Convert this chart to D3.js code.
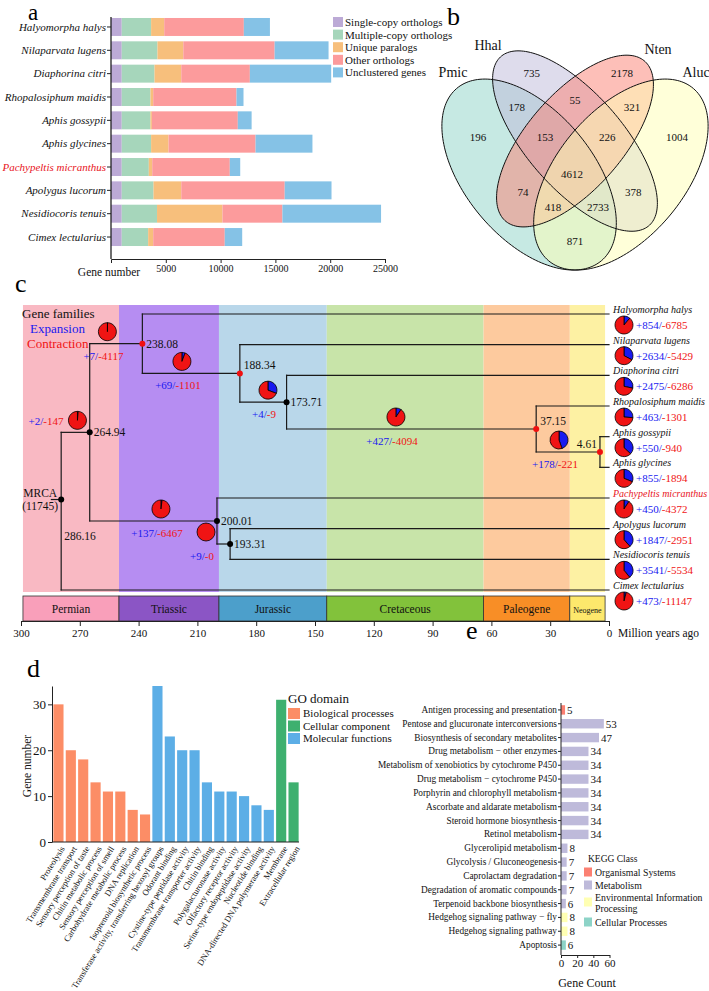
<!DOCTYPE html>
<html>
<head>
<meta charset="utf-8">
<script src="https://cdn.jsdelivr.net/npm/d3@7"></script>
<style>
body { margin: 0; background: #fff; }
svg { display: block; font-family: "Liberation Serif", "Times New Roman", serif; }
</style>
</head>
<body>
<svg id="fig" width="709" height="991"></svg>
<script>
// ---------------- data: a (ortholog composition) ----------------
const speciesA = ["Halyomorpha halys", "Nilaparvata lugens", "Diaphorina citri", "Rhopalosiphum maidis", "Aphis gossypii",
    "Aphis glycines", "Pachypeltis micranthus", "Apolygus lucorum", "Nesidiocoris tenuis", "Cimex lectularius"];
const orthoClasses = ["Single-copy orthologs", "Multiple-copy orthologs", "Unique paralogs", "Other orthologs", "Unclustered genes"];
const singleCopy     = [980, 980, 980, 980, 980, 980, 980, 980, 980, 980];
const multiCopy      = [2680, 3260, 2990, 2620, 2620, 2680, 2470, 2900, 3220, 2410];
const uniqueParalogs = [1195, 2355, 2440, 250, 130, 1590, 310, 2530, 5970, 460];
const otherOrthologs = [7265, 8335, 6260, 7600, 7840, 7940, 7080, 9440, 5470, 6530];
const unclustered    = [2380, 4920, 7420, 640, 1260, 5190, 950, 4270, 9000, 1590];
const geneTicks = [5000, 10000, 15000, 20000, 25000];

// ---------------- data: b (venn) ----------------
const vennSets = ["Pmic", "Hhal", "Nten", "Aluc"];
const vennCounts = [196, 735, 2178, 1004, 178, 55, 321, 153, 226, 4612, 74, 378, 418, 2733, 871];

// ---------------- data: c (tree) ----------------
const periodNames = ["Permian", "Triassic", "Jurassic", "Cretaceous", "Paleogene", "Neogene"];
const periodStart = [299, 250, 199, 144, 64, 20];
const periodEnd   = [250, 199, 144, 64, 20, 2];
const ageTicks = [300, 270, 240, 210, 180, 150, 120, 90, 60, 30, 0];
const tipNames = ["Halyomorpha halys", "Nilaparvata lugens", "Diaphorina citri", "Rhopalosiphum maidis", "Aphis gossypii",
    "Aphis glycines", "Pachypeltis micranthus", "Apolygus lucorum", "Nesidiocoris tenuis", "Cimex lectularius"];
const tipGain = [854, 2634, 2475, 463, 550, 855, 450, 1847, 3541, 473];
const tipLoss = [6785, 5429, 6286, 1301, 940, 1894, 4372, 2951, 5534, 11147];
const tipParent = [2, 3, 4, 5, 6, 6, 7, 8, 8, 0];
// internal nodes: 0 = MRCA
const nodeLabel  = ["286.16", "264.94", "238.08", "188.34", "173.71", "37.15", "4.61", "200.01", "193.31"];
const nodeAge    = [279.5, 264.94, 238.08, 188.34, 164.5, 37.15, 4.61, 200.01, 193.31];
const nodeParent = [-1, 0, 1, 2, 3, 4, 5, 1, 7];
const nodeCalibrated = [false, false, true, true, false, true, true, false, false];
const mrcaRow = 6.05;
const mrcaFamilies = 11745;
const branchNode  = [1, 2, 3, 4, 5, 6, 7, 8];
const branchGain  = [2, 7, 69, 4, 427, 178, 137, 9];
const branchLoss  = [147, 4117, 1101, 9, 4094, 221, 6467, 0];
const branchPieBlue = [2, 7, 69, 4, 427, 178, 137, 0];
const branchPieRed  = [147, 4117, 1101, 9, 4094, 221, 6467, 9];
const branchPieAge  = [271.2, 255.9, 217.9, 174, 108.7, 25.5, 228.6, 205.6];

// ---------------- data: d (GO) ----------------
const goTerms = ["Proteolysis", "Transmembrane transport", "Sensory perception of taste", "Chitin metabolic process",
    "Sensory perception of smell", "Carbohydrate metabolic process", "DNA replication", "Isoprenoid biosynthetic process",
    "Transferase activity, transferring hexosyl groups", "Odorant binding", "Cystine-type peptidase activity",
    "Transmembrane transporter activity", "Chitin binding", "Polygalacturonase activity", "Olfactory receptor activity",
    "Serine-type endopeptidase activity", "Nucleotide binding", "DNA-directed DNA polymerase activity",
    "Membrane", "Extracellular region"];
const goCounts = [30, 20, 18, 13, 11, 11, 7, 6, 34, 23, 20, 20, 13, 11, 11, 10, 8, 7, 31, 13];
const goDomainOf = ["BP", "BP", "BP", "BP", "BP", "BP", "BP", "BP", "MF", "MF", "MF", "MF", "MF", "MF", "MF", "MF", "MF", "MF", "CC", "CC"];
const goDomains = ["BP", "CC", "MF"];
const goDomainNames = ["Biological processes", "Cellular component", "Molecular functions"];
const goTicks = [0, 10, 20, 30];

// ---------------- data: e (KEGG) ----------------
const keggTerms = ["Antigen processing and presentation", "Pentose and glucuronate interconversions",
    "Biosynthesis of secondary metabolites", "Drug metabolism \u2212 other enzymes",
    "Metabolism of xenobiotics by cytochrome P450", "Drug metabolism \u2212 cytochrome P450",
    "Porphyrin and chlorophyll metabolism", "Ascorbate and aldarate metabolism", "Steroid hormone biosynthesis",
    "Retinol metabolism", "Glycerolipid metabolism", "Glycolysis / Gluconeogenesis", "Caprolactam degradation",
    "Degradation of aromatic compounds", "Terpenoid backbone biosynthesis", "Hedgehog signaling pathway \u2212 fly",
    "Hedgehog signaling pathway", "Apoptosis"];
const keggCounts = [5, 53, 47, 34, 34, 34, 34, 34, 34, 34, 8, 7, 7, 7, 6, 8, 8, 6];
const keggClassOf = ["OS", "M", "M", "M", "M", "M", "M", "M", "M", "M", "M", "M", "M", "M", "M", "E", "E", "C"];
const keggClasses = ["OS", "M", "E", "C"];
const keggClassNames = ["Organismal Systems", "Metabolism", "Environmental Information Processing", "Cellular Processes"];
const keggTicks = [0, 20, 40, 60];

// ---------------- styles ----------------
const orthoColors = ["#bcaad6", "#a6d6bb", "#f7bf7c", "#fc9b9c", "#85c2e6"];
const vennFills = ["#8dd3c7", "#bebada", "#fb8072", "#ffffb3"];
const bandColors = ["#f9b9c3", "#b68df2", "#b9d7ea", "#c8e4a9", "#fdca9e", "#fdf1a3"];
const boxColors = ["#f99fba", "#8b55c5", "#4c9fcb", "#82c23b", "#f88e26", "#fde86c"];
const goColors = ["#fc8d66", "#3eb06f", "#5caee6"];
const keggColors = ["#fb8072", "#bebada", "#ffffb3", "#8dd3c7"];
const BLUE = "#1818f0", RED = "#f01414";
const INK = "#111";

const svg = d3.select("#fig");
svg.append("rect").attr("width", 709).attr("height", 991).attr("fill", "#fff");

function cleanAxis(g) {
    g.attr("font-family", null).attr("font-size", null);
    g.selectAll("path, line").attr("stroke", "#222");
    g.selectAll("text").attr("fill", INK);
}

// panel letters
const letters = ["a", "b", "c", "d", "e"];
const letterXY = [[28, 20], [447, 25], [15, 292], [27, 677], [466, 639]];
const letterSize = [23, 26, 26, 26, 26];
svg.selectAll("text.letter").data(letters).join("text")
    .attr("class", "letter")
    .attr("x", (d, i) => letterXY[i][0]).attr("y", (d, i) => letterXY[i][1])
    .attr("font-size", (d, i) => letterSize[i]).attr("fill", "#000").text(d => d);

// ================= a =================
const rowsA = speciesA.map((s, i) => ({
    species: s,
    [orthoClasses[0]]: singleCopy[i], [orthoClasses[1]]: multiCopy[i], [orthoClasses[2]]: uniqueParalogs[i],
    [orthoClasses[3]]: otherOrthologs[i], [orthoClasses[4]]: unclustered[i]
}));
const xA = d3.scaleLinear().domain([0, 25000]).range([111, 385]);
const yA = d3.scaleBand().domain(speciesA).range([15.3, 248.7]).paddingInner(0.23).paddingOuter(0.115);
const colorA = d3.scaleOrdinal(orthoClasses, orthoColors);
const axisYA = 259;

const gA = svg.append("g");
gA.append("g").selectAll("g").data(d3.stack().keys(orthoClasses)(rowsA)).join("g")
    .attr("fill", d => colorA(d.key))
    .selectAll("rect").data(d => d).join("rect")
    .attr("x", d => xA(d[0])).attr("width", d => xA(d[1]) - xA(d[0]))
    .attr("y", d => yA(d.data.species)).attr("height", yA.bandwidth());

gA.append("g").attr("transform", `translate(${xA(0)},0)`)
    .call(d3.axisLeft(yA).tickSize(4).tickSizeOuter(0).tickPadding(1))
    .call(g => g.select(".domain").remove())
    .call(cleanAxis)
    .selectAll("text").attr("font-size", 11).attr("font-style", "italic")
    .attr("fill", d => d === "Pachypeltis micranthus" ? "#e8141c" : INK);
gA.append("line").attr("x1", xA(0)).attr("x2", xA(0)).attr("y1", 17).attr("y2", axisYA)
    .attr("stroke", "#222").attr("stroke-width", 1.3);
gA.append("g").attr("transform", `translate(0,${axisYA})`)
    .call(d3.axisBottom(xA).tickValues(geneTicks).tickSize(4).tickSizeOuter(4).tickPadding(2).tickFormat(d3.format("d")))
    .call(cleanAxis)
    .selectAll("text").attr("font-size", 10);
gA.append("text").attr("x", 109).attr("y", 276).attr("text-anchor", "middle")
    .attr("font-size", 11.5).attr("fill", INK).text("Gene number");

const legA = gA.append("g").attr("transform", "translate(333,17)");
orthoClasses.forEach((c, i) => {
    legA.append("rect").attr("x", 0).attr("y", i * 12.6).attr("width", 10).attr("height", 10).attr("fill", orthoColors[i]);
    legA.append("text").attr("x", 12).attr("y", i * 12.6 + 9).attr("font-size", 11).attr("fill", INK).text(c);
});

// ================= b =================
const vx = d3.scaleLinear().domain([0, 1]).range([422, 728]);
const vy = d3.scaleLinear().domain([0, 1]).range([332, -3]);
const vennEllipses = [
    {cx: 0.35, cy: 0.47, a: 0.35, b: 0.20, rot: 135},
    {cx: 0.50, cy: 0.57, a: 0.35, b: 0.15, rot: 135},
    {cx: 0.50, cy: 0.57, a: 0.33, b: 0.15, rot: 45},
    {cx: 0.65, cy: 0.47, a: 0.35, b: 0.20, rot: 45}
];
const vennLabelUV = [[0.183, 0.582], [0.359, 0.773], [0.654, 0.773], [0.833, 0.582], [0.310, 0.672], [0.5, 0.693],
    [0.686, 0.672], [0.402, 0.582], [0.605, 0.582], [0.49, 0.472], [0.330, 0.418], [0.690, 0.418],
    [0.428, 0.373], [0.575, 0.373], [0.5, 0.272]];
const vennSetXY = [[453, 72], [488, 45], [658, 49], [696, 72]];

const gB = svg.append("g");
const ellLine = d3.line().curve(d3.curveLinearClosed);
function ellipsePts(e) {
    const r = e.rot * Math.PI / 180;
    return d3.range(0, 2 * Math.PI, Math.PI / 90).map(t => {
        const px = e.a * Math.cos(t), py = e.b * Math.sin(t);
        return [vx(e.cx + px * Math.cos(r) - py * Math.sin(r)), vy(e.cy + px * Math.sin(r) + py * Math.cos(r))];
    });
}
gB.selectAll("path.fill").data(vennEllipses).join("path")
    .attr("d", e => ellLine(ellipsePts(e))).attr("fill", (e, i) => vennFills[i]).attr("fill-opacity", 0.5);
gB.selectAll("path.edge").data(vennEllipses).join("path")
    .attr("d", e => ellLine(ellipsePts(e))).attr("fill", "none").attr("stroke", "#111").attr("stroke-width", 1);
gB.selectAll("text.cnt").data(vennCounts).join("text")
    .attr("x", (d, i) => vx(vennLabelUV[i][0])).attr("y", (d, i) => vy(vennLabelUV[i][1]) + 4)
    .attr("text-anchor", "middle").attr("font-size", 11).attr("fill", INK).text(d => d);
gB.selectAll("text.set").data(vennSets).join("text")
    .attr("x", (d, i) => vennSetXY[i][0]).attr("y", (d, i) => vennSetXY[i][1] + 5)
    .attr("text-anchor", "middle").attr("font-size", 14).attr("fill", INK).text(d => d);

// ================= c =================
const xC = d3.scaleLinear().domain([300, 0]).range([21, 609]);
const yC = d3.scaleLinear().domain([0, 9]).range([314, 590]);
const gC = svg.append("g");
const bandTop = 305, bandBottom = 592, boxTop = 596, axisYC = 621;

gC.selectAll("rect.band").data(periodNames).join("rect")
    .attr("x", (d, i) => xC(periodStart[i])).attr("width", (d, i) => xC(periodEnd[i]) - xC(periodStart[i]))
    .attr("y", bandTop).attr("height", bandBottom - bandTop).attr("fill", (d, i) => bandColors[i]);
gC.selectAll("rect.box").data(periodNames).join("rect")
    .attr("x", (d, i) => xC(periodStart[i])).attr("width", (d, i) => xC(periodEnd[i]) - xC(periodStart[i]))
    .attr("y", boxTop).attr("height", axisYC - boxTop).attr("fill", (d, i) => boxColors[i])
    .attr("stroke", "#333").attr("stroke-width", 0.8);
gC.selectAll("text.period").data(periodNames).join("text")
    .attr("x", (d, i) => (xC(periodStart[i]) + xC(periodEnd[i])) / 2).attr("y", (boxTop + axisYC) / 2 + 4)
    .attr("text-anchor", "middle").attr("font-size", d => d === "Neogene" ? 8 : 11.5).attr("fill", INK).text(d => d);

gC.append("g").attr("transform", `translate(0,${axisYC})`)
    .call(d3.axisBottom(xC).tickValues(ageTicks).tickSize(5).tickSizeOuter(0).tickPadding(3))
    .call(cleanAxis)
    .selectAll("text").attr("font-size", 11);
gC.append("text").attr("x", 618).attr("y", 637).attr("font-size", 11.5).attr("fill", INK).text("Million years ago");

// tree layout
const nodeY = [], nodeSpan = [];
function layoutNode(n) {
    const ys = [];
    tipParent.forEach((p, i) => { if (p === n) ys.push(yC(i)); });
    nodeParent.forEach((p, j) => { if (p === n) ys.push(layoutNode(j)); });
    nodeSpan[n] = d3.extent(ys);
    nodeY[n] = n === 0 ? yC(mrcaRow) : (nodeSpan[n][0] + nodeSpan[n][1]) / 2;
    return nodeY[n];
}
layoutNode(0);

const treeLines = [];
nodeLabel.forEach((l, n) => {
    treeLines.push([xC(nodeAge[n]), nodeSpan[n][0], xC(nodeAge[n]), nodeSpan[n][1]]);
    if (nodeParent[n] >= 0) treeLines.push([xC(nodeAge[nodeParent[n]]), nodeY[n], xC(nodeAge[n]), nodeY[n]]);
});
tipNames.forEach((t, i) => treeLines.push([xC(nodeAge[tipParent[i]]), yC(i), xC(0), yC(i)]));
treeLines.push([xC(nodeAge[0] + 5), nodeY[0], xC(nodeAge[0]), nodeY[0]]);
gC.selectAll("line.branch").data(treeLines).join("line")
    .attr("x1", d => d[0]).attr("y1", d => d[1]).attr("x2", d => d[2]).attr("y2", d => d[3])
    .attr("stroke", "#1a1a1a").attr("stroke-width", 1.2).attr("stroke-linecap", "square");

gC.selectAll("circle.node").data(nodeLabel).join("circle")
    .attr("cx", (d, n) => xC(nodeAge[n])).attr("cy", (d, n) => nodeY[n]).attr("r", 3)
    .attr("fill", (d, n) => nodeCalibrated[n] ? "#f01010" : "#000");

// node labels
const nodeLabelPlace = ["below", "right", "right", "above", "right", "above", "aboveLeft", "right", "right"];
gC.selectAll("text.age").data(nodeLabel).join("text")
    .attr("x", (d, n) => {
        const x = xC(nodeAge[n]);
        return nodeLabelPlace[n] === "below" ? x + 3 : nodeLabelPlace[n] === "aboveLeft" ? x - 3 : x + 4;
    })
    .attr("y", (d, n) => {
        const y = nodeY[n], p = nodeLabelPlace[n];
        return p === "below" ? y + 40 : p === "right" ? y + 4 : y - 4;
    })
    .attr("text-anchor", (d, n) => nodeLabelPlace[n] === "aboveLeft" ? "end" : "start")
    .attr("font-size", 11.5).attr("fill", INK).text(d => d);
gC.append("text").attr("x", xC(nodeAge[0]) - 4).attr("y", nodeY[0] - 3).attr("text-anchor", "end")
    .attr("font-size", 11.5).attr("fill", INK).text("MRCA");
gC.append("text").attr("x", xC(nodeAge[0]) - 3).attr("y", nodeY[0] + 10).attr("text-anchor", "end")
    .attr("font-size", 11.5).attr("fill", INK).text(`(${mrcaFamilies})`);

// legend text
gC.append("text").attr("x", 22).attr("y", 318).attr("font-size", 13).attr("fill", INK).text("Gene families");
gC.append("text").attr("x", 30).attr("y", 333).attr("font-size", 13).attr("fill", BLUE).text("Expansion");
gC.append("text").attr("x", 27).attr("y", 348).attr("font-size", 13).attr("fill", RED).text("Contraction");

const pie = d3.pie().sort(null);
const arc = d3.arc().innerRadius(0).outerRadius(9);
function drawPie(g, cx, cy, vals) {
    g.append("g").attr("transform", `translate(${cx},${cy})`)
        .selectAll("path").data(pie(vals)).join("path")
        .attr("d", arc).attr("fill", (d, i) => i === 0 ? BLUE : RED)
        .attr("stroke", "#000").attr("stroke-width", 0.8);
}
function gainLoss(g, x, y, gain, loss, anchor) {
    const t = g.append("text").attr("x", x).attr("y", y).attr("font-size", 11).attr("text-anchor", anchor || "start");
    t.append("tspan").attr("fill", BLUE).text(`+${gain}/`);
    t.append("tspan").attr("fill", RED).text(`-${loss}`);
}

// branch annotations
branchNode.forEach((n, k) => {
    const px = xC(branchPieAge[k]), py = nodeY[n] - 12;
    drawPie(gC, px, py, [branchPieBlue[k], branchPieRed[k]]);
    if (n === 1) gainLoss(gC, px - 14, py + 5, branchGain[k], branchLoss[k], "end");
    else gainLoss(gC, px - 4, nodeY[n] + 16, branchGain[k], branchLoss[k], "middle");
});

// tip annotations
tipNames.forEach((t, i) => {
    const y = yC(i);
    gC.append("text").attr("x", xC(0) + 4).attr("y", y - 1).attr("font-size", 10).attr("font-style", "italic")
        .attr("fill", t === "Pachypeltis micranthus" ? "#e8141c" : INK).text(t);
    drawPie(gC, xC(0) + 15, y + 11, [tipGain[i], tipLoss[i]]);
    gainLoss(gC, xC(0) + 27, y + 15, tipGain[i], tipLoss[i]);
});

// ================= d =================
const xD = d3.scaleBand().domain(goTerms).range([53, 299]).paddingInner(0.18).paddingOuter(0.03);
const yD = d3.scaleLinear().domain([0, 34]).range([842, 686]);
const colorD = d3.scaleOrdinal(goDomains, goColors);
const gD = svg.append("g");
gD.selectAll("rect").data(goTerms).join("rect")
    .attr("x", d => xD(d)).attr("width", xD.bandwidth())
    .attr("y", (d, i) => yD(goCounts[i])).attr("height", (d, i) => yD(0) - yD(goCounts[i]))
    .attr("fill", (d, i) => colorD(goDomainOf[i]));
gD.append("g").attr("transform", "translate(52,0)")
    .call(d3.axisLeft(yD).tickValues(goTicks).tickSize(4).tickSizeOuter(0).tickPadding(2))
    .call(cleanAxis)
    .selectAll("text").attr("font-size", 13);
gD.append("g").attr("transform", `translate(0,${yD(0)})`)
    .call(d3.axisBottom(xD).tickSize(0).tickSizeOuter(0))
    .call(cleanAxis)
    .call(g => g.select(".domain").attr("d", `M52,0H299`))
    .selectAll("text").attr("font-size", 8.6).attr("text-anchor", "end")
    .attr("y", 0).attr("dy", "0.35em").attr("transform", "translate(4,5) rotate(-58)");
gD.append("text").attr("transform", "translate(31,766) rotate(-90)").attr("text-anchor", "middle")
    .attr("font-size", 11.5).attr("fill", INK).text("Gene number");
gD.append("text").attr("x", 288).attr("y", 703).attr("font-size", 13).attr("fill", INK).text("GO domain");
goDomainNames.forEach((nm, i) => {
    gD.append("rect").attr("x", 288).attr("y", 708 + i * 12.5).attr("width", 12).attr("height", 11).attr("fill", goColors[i]);
    gD.append("text").attr("x", 303).attr("y", 717 + i * 12.5).attr("font-size", 11).attr("fill", INK).text(nm);
});

// ================= e =================
const xE = d3.scaleLinear().domain([0, 60]).range([561, 609.5]);
const yE = d3.scaleBand().domain(keggTerms).range([703, 952]).paddingInner(0.32).paddingOuter(0.16);
const colorE = d3.scaleOrdinal(keggClasses, keggColors);
const gE = svg.append("g");
gE.selectAll("rect").data(keggTerms).join("rect")
    .attr("x", xE(0)).attr("width", (d, i) => xE(keggCounts[i]) - xE(0))
    .attr("y", d => yE(d)).attr("height", yE.bandwidth())
    .attr("fill", (d, i) => colorE(keggClassOf[i]));
gE.selectAll("text.val").data(keggTerms).join("text")
    .attr("x", (d, i) => xE(keggCounts[i]) + 2).attr("y", d => yE(d) + yE.bandwidth() / 2 + 4)
    .attr("font-size", 11).attr("fill", INK).text((d, i) => keggCounts[i]);
gE.append("g").attr("transform", `translate(${xE(0)},0)`)
    .call(d3.axisLeft(yE).tickSize(3).tickSizeOuter(0).tickPadding(1))
    .call(cleanAxis)
    .call(g => g.select(".domain").attr("d", "M0,703V955"))
    .selectAll("text").attr("font-size", 9.3);
gE.append("g").attr("transform", "translate(0,955)")
    .call(d3.axisBottom(xE).tickValues(keggTicks).tickSize(3).tickSizeOuter(0).tickPadding(1))
    .call(cleanAxis)
    .selectAll("text").attr("font-size", 11);
gE.append("text").attr("x", 587).attr("y", 987).attr("text-anchor", "middle").attr("font-size", 12)
    .attr("fill", INK).text("Gene Count");
gE.append("text").attr("x", 588).attr("y", 862).attr("font-size", 9.5).attr("fill", INK).text("KEGG Class");
const legERow = [872, 885, 902, 922];
keggClassNames.forEach((nm, i) => {
    gE.append("rect").attr("x", 584).attr("y", legERow[i] - 4.5).attr("width", 8).attr("height", 9).attr("fill", keggColors[i]);
    const t = gE.append("text").attr("x", 595).attr("font-size", 9.8).attr("fill", INK);
    if (nm === "Environmental Information Processing") {
        t.attr("y", legERow[i] - 1).text("Environmental Information");
        gE.append("text").attr("x", 595).attr("y", legERow[i] + 10).attr("font-size", 9.8).attr("fill", INK).text("Processing");
    } else {
        t.attr("y", legERow[i] + 4).text(nm);
    }
});
</script>
</body>
</html>
